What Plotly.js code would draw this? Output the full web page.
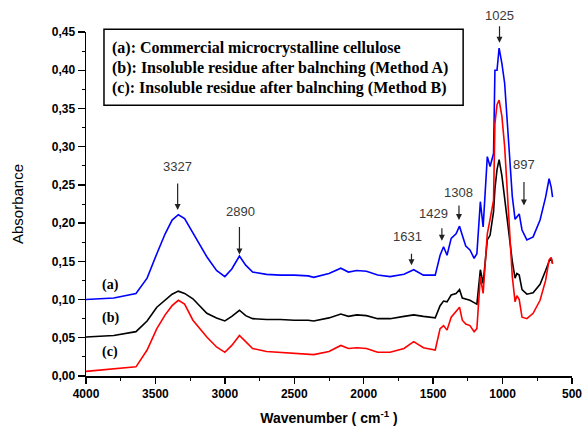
<!DOCTYPE html>
<html>
<head>
<meta charset="utf-8">
<script src="https://cdn.plot.ly/plotly-3.0.1.min.js"></script>
<style>html,body{margin:0;padding:0;background:#fff;}#chart{width:585px;height:433px;}</style>
</head>
<body>
<div id="chart"></div>
<script>
const wavenumber = [4000, 3800, 3640, 3560, 3490, 3430, 3380, 3335, 3290, 3230, 3130, 3060, 3000, 2950, 2895, 2850, 2800, 2700, 2600, 2500, 2400, 2360, 2250, 2165, 2110, 2050, 1980, 1900, 1810, 1710, 1640, 1570, 1485, 1450, 1425, 1400, 1370, 1335, 1310, 1290, 1265, 1235, 1205, 1185, 1160, 1140, 1110, 1090, 1065, 1055, 1040, 1025, 1005, 985, 960, 930, 910, 897, 880, 860, 825, 780, 730, 690, 665, 650, 640];

const seriesA = [0.100, 0.102, 0.108, 0.128, 0.160, 0.186, 0.204, 0.211, 0.206, 0.187, 0.156, 0.138, 0.130, 0.140, 0.157, 0.145, 0.136, 0.133, 0.132, 0.132, 0.131, 0.129, 0.134, 0.141, 0.136, 0.138, 0.137, 0.132, 0.130, 0.133, 0.139, 0.132, 0.132, 0.158, 0.169, 0.158, 0.180, 0.186, 0.196, 0.184, 0.170, 0.165, 0.154, 0.160, 0.228, 0.195, 0.287, 0.274, 0.291, 0.400, 0.400, 0.429, 0.409, 0.383, 0.309, 0.235, 0.205, 0.208, 0.212, 0.191, 0.178, 0.182, 0.204, 0.234, 0.258, 0.247, 0.234];

const seriesB = [0.051, 0.053, 0.058, 0.072, 0.090, 0.100, 0.107, 0.111, 0.108, 0.101, 0.082, 0.076, 0.072, 0.078, 0.086, 0.079, 0.075, 0.074, 0.074, 0.073, 0.073, 0.072, 0.076, 0.081, 0.078, 0.080, 0.079, 0.075, 0.075, 0.078, 0.080, 0.078, 0.076, 0.092, 0.098, 0.097, 0.106, 0.108, 0.113, 0.102, 0.101, 0.099, 0.096, 0.094, 0.139, 0.121, 0.178, 0.184, 0.215, 0.245, 0.270, 0.283, 0.262, 0.235, 0.195, 0.150, 0.128, 0.134, 0.132, 0.113, 0.107, 0.109, 0.120, 0.138, 0.150, 0.154, 0.147];

const seriesC = [0.006, 0.009, 0.012, 0.034, 0.062, 0.080, 0.092, 0.099, 0.094, 0.073, 0.051, 0.038, 0.031, 0.040, 0.053, 0.045, 0.036, 0.032, 0.031, 0.030, 0.029, 0.028, 0.032, 0.040, 0.036, 0.037, 0.036, 0.031, 0.031, 0.036, 0.045, 0.037, 0.034, 0.062, 0.066, 0.060, 0.077, 0.085, 0.090, 0.073, 0.068, 0.066, 0.058, 0.062, 0.130, 0.108, 0.186, 0.205, 0.230, 0.330, 0.355, 0.361, 0.340, 0.300, 0.225, 0.130, 0.097, 0.105, 0.100, 0.077, 0.075, 0.082, 0.099, 0.125, 0.152, 0.155, 0.147];

const seriesNames = ["(a)", "(b)", "(c)"];
const seriesColors = ["#0000ff", "#000000", "#ff0000"];
const legendLines = [
  "(a): Commercial microcrystalline cellulose",
  "(b): Insoluble residue after balnching (Method A)",
  "(c): Insoluble residue after balnching (Method B)"
];
const peakLabels = ["3327", "2890", "1631", "1429", "1308", "1025", "897"];
const peakTipX = [3340, 2895, 1656, 1437, 1314, 1022, 846];
const peakTipY = [0.217, 0.159, 0.145, 0.177, 0.204, 0.436, 0.223];
const peakLabelX = [3344, 2890, 1685, 1497, 1321, 1022, 844];
const arrowLen = [28, 29, 13, 14, 16, 18, 25];
const labelLift = [44, 43, 29, 27, 28, 27, 41];

const seriesLabelX = [3827, 3827, 3827];
const seriesLabelY = [0.119, 0.076, 0.032];

const allSeries = [seriesA, seriesB, seriesC];
const traces = allSeries.map((s, i) => ({
  x: wavenumber, y: s, type: "scatter", mode: "lines",
  name: seriesNames[i], line: {color: seriesColors[i], width: 1.6}, showlegend: false
}));

const annotations = [];
const sansFont = "Liberation Sans, Arial, sans-serif";
const serifFont = "Liberation Serif, Times New Roman, serif";
peakLabels.forEach((t, i) => {
  annotations.push({x: peakLabelX[i], y: peakTipY[i], yshift: labelLift[i], xref: "x", yref: "y", text: t, showarrow: false,
    font: {family: sansFont, size: 13, color: "#3a3a3a"}});
  annotations.push({x: peakTipX[i], y: peakTipY[i], xref: "x", yref: "y", text: "", showarrow: true,
    ax: 0, ay: -arrowLen[i], axref: "pixel", ayref: "pixel",
    arrowhead: 2, arrowsize: 1, arrowwidth: 1.2, arrowcolor: "#222"});
});
seriesNames.forEach((t, i) => {
  annotations.push({x: seriesLabelX[i], y: seriesLabelY[i], xref: "x", yref: "y", text: "<b>" + t + "</b>",
    showarrow: false, font: {family: serifFont, size: 14, color: "#000"}});
});
const legendY = [0.953, 0.895, 0.837];
legendLines.forEach((t, i) => {
  annotations.push({x: 0.05, y: legendY[i], xref: "paper", yref: "paper", xanchor: "left", yanchor: "middle",
    text: "<b>" + t + "</b>", showarrow: false, font: {family: serifFont, size: 16, color: "#000"}});
});

const layout = {
  width: 585, height: 433,
  margin: {l: 86, r: 13, t: 32, b: 57},
  paper_bgcolor: "#fff", plot_bgcolor: "#fff",
  separators: ",.",
  showlegend: false,
  font: {family: sansFont, color: "#000"},
  xaxis: {
    range: [4000, 500], dtick: 500, tick0: 500, tickformat: "d",
    showgrid: false, zeroline: false, showline: true, linecolor: "#000", linewidth: 1.5,
    ticks: "outside", ticklen: 6, tickwidth: 1.3, tickcolor: "#000",
    minor: {dtick: 250, ticks: "outside", ticklen: 3, tickwidth: 1, tickcolor: "#000"},
    tickfont: {family: sansFont, size: 12, color: "#000", weight: "bold"},
    title: {text: "<b>Wavenumber ( cm<sup>-1</sup> )</b>", font: {family: sansFont, size: 14, color: "#000"}, standoff: 13}
  },
  yaxis: {
    range: [0, 0.45], dtick: 0.05, tick0: 0, tickformat: ".2f",
    showgrid: false, zeroline: false, showline: true, linecolor: "#000", linewidth: 1.5,
    ticks: "outside", ticklen: 7, tickwidth: 1.3, tickcolor: "#000",
    minor: {dtick: 0.025, ticks: "outside", ticklen: 3, tickwidth: 1, tickcolor: "#000"},
    tickfont: {family: sansFont, size: 12, color: "#000", weight: "bold"},
    title: {text: "Absorbance", font: {family: sansFont, size: 15, color: "#000"}, standoff: 24}
  },
  shapes: [{type: "rect", xref: "paper", yref: "paper", x0: 0.037, x1: 0.776, y0: 0.787, y1: 1.008,
    line: {color: "#000", width: 1.5}, fillcolor: "rgba(0,0,0,0)"}],
  annotations: annotations
};

Plotly.newPlot("chart", traces, layout, {displayModeBar: false, staticPlot: true});
</script>
</body>
</html>
